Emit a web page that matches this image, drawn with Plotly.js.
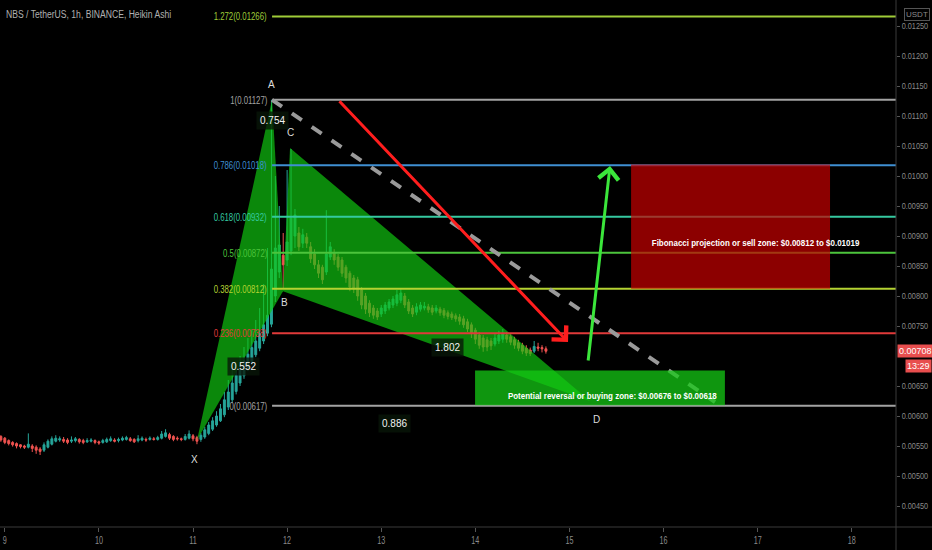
<!DOCTYPE html>
<html><head><meta charset="utf-8">
<script src="https://cdn.plot.ly/plotly-3.0.1.min.js"></script>
<style>html,body{margin:0;padding:0;background:#000;}#chart{width:932px;height:550px;}</style>
</head><body><div id="chart"></div>
<script>
// ---------- DATA ----------
// hourly Heikin Ashi candles, prices in 0.00001 USDT; first candle 1 h before day 9 00:00
const firstHour = -1;
const opens = [566,563,559,556,554,552,550,548,550,548,545,543,548,553,558,560,561,560,558,559,
561,559,557,558,559,557,556,557,559,560,559,560,561,562,561,559,560,561,561,562,
561,563,566,569,566,563,562,561,563,567,564,561,565,571,578,585,592,602,615,627,
641,655,667,680,691,702,713,725,738,753,800,840,868,860,875,900,905,888,898,882,
870,852,848,840,865,872,865,860,848,838,830,827,810,800,788,780,775,770,775,780,
785,788,793,800,790,780,773,778,780,782,780,775,778,776,772,770,767,765,762,757,
752,743,735,730,727,725,720,725,728,735,732,727,722,718,713,710,708,715,714,712];
const highs = [568,565,561,558,556,553,552,571,553,551,548,556,561,566,568,566,565,563,566,565,
563,562,563,563,561,559,562,564,566,563,564,566,567,565,563,568,566,564,566,565,
567,575,578,572,568,566,564,570,576,570,567,572,582,590,598,608,620,640,660,680,
690,700,715,730,745,760,780,820,880,1127,1000,950,905,1010,1045,945,915,912,905,890,
878,860,852,943,890,878,870,865,852,842,835,832,815,805,793,785,780,785,790,795,
800,810,812,805,795,785,788,790,790,787,785,785,782,780,776,774,771,770,767,762,
756,747,740,735,732,730,738,742,745,740,736,732,727,722,718,714,725,722,718,716];
const lows = [557,553,551,549,546,546,545,546,540,537,535,540,546,551,556,557,555,553,555,556,
554,553,555,556,553,552,554,555,557,556,556,558,559,557,555,556,558,557,559,559,
559,561,564,560,558,559,558,559,561,558,553,557,562,568,575,582,590,598,610,622,
636,650,662,675,686,698,708,720,733,748,790,830,812,850,868,880,875,880,880,855,
845,830,820,835,860,852,842,832,822,808,805,792,778,770,765,762,760,765,770,776,
780,783,788,780,770,765,768,774,776,772,768,771,767,763,761,760,757,752,747,740,
730,720,712,707,708,710,716,720,722,722,718,712,708,703,700,700,705,708,706,704];
const closes = [560,556,554,552,550,549,548,553,546,543,541,552,558,562,563,562,558,556,560,562,
557,556,559,560,556,555,559,561,562,558,561,563,564,559,557,562,563,560,563,561,
564,570,572,563,561,562,561,566,570,562,558,568,577,585,592,600,612,627,640,655,
668,680,692,703,714,725,738,752,768,845,880,885,852,890,930,935,882,902,888,862,
852,838,827,870,882,860,848,838,830,815,812,800,785,778,772,768,765,780,785,790,
795,802,805,785,775,770,782,785,783,777,773,780,772,768,766,764,762,758,752,745,
737,728,718,715,715,717,730,735,737,728,723,718,713,708,705,704,716,713,712,708];

const dayTicks = [9,10,11,12,13,14,15,16,17,18];
// 0.00700 is hidden behind the last-price label in the reference
const priceTicks = [0.0045,0.005,0.0055,0.006,0.0065,0.0075,0.008,0.0085,0.009,0.0095,0.01,0.0105,0.011,0.0115,0.012,0.0125];

// XABCD pattern points (time in days, price in USDT)
const patternNames = ['X','A','B','C','D'];
const patternTimes = [11.043, 11.840, 11.956, 12.031, 15.219];
const patternPrices = [0.0056, 0.01127, 0.00808, 0.010467, 0.00625];

const ratioTexts = ['0.552','0.754','1.802','0.886'];
const ratioTimes = [11.534, 11.840, 13.701, 13.136];
const ratioPrices = [0.006817, 0.010917, 0.00715, 0.005867];

const fibRatios = ['1.272','1','0.786','0.618','0.5','0.382','0.236','0'];
const fibPrices = [0.01266,0.01127,0.01018,0.00932,0.00872,0.00812,0.00738,0.00617];

const zoneTexts = ['Fibonacci projection or sell zone: $0.00812 to $0.01019','Potential reversal or buying zone: $0.00676 to $0.00618'];
const zoneStart = [15.655, 13.997];
const zoneEnd = [17.769, 16.652];
const zoneLow = [0.00812, 0.00618];
const zoneHigh = [0.01019, 0.00676];
const zoneLabelTimes = [16.972, 15.453];
const zoneLabelPrices = [0.0089, 0.00635];

const trendTimes = [11.840, 16.547];
const trendPrices = [0.01127, 0.006233];
const arrowTailTimes = [12.541, 15.197];
const arrowTailPrices = [0.01127, 0.0069];
const arrowTipTimes = [14.985, 15.431];
const arrowTipPrices = [0.007233, 0.010167];

const lastPrice = 0.00708;
const lastPriceText = '0.00708';
const countdownText = '13:29';
const titleText = 'NBS / TetherUS, 1h, BINANCE, Heikin Ashi';

// ---------- STYLE ----------
const FONT = '"Liberation Sans", Arial, sans-serif';
const fibColors = ['#9fcc38','#a3a3a3','#3f8fd2','#35c9a0','#4cc43c','#b4d232','#e03a3a','#a3a3a3'];
const zoneFill = ['rgba(200,0,0,0.70)','rgba(20,200,20,0.75)'];
const arrowColors = ['#ff1e1e','#3be63b'];
const xRange = [8.949, 18.47];
const yRange = [0.00415, 0.0129333];

const times = closes.map((_, i) => 9 + (firstHour + i) / 24);
const sc = v => v / 100000;

const trace = {
  type: 'candlestick',
  x: times,
  open: opens.map(sc), high: highs.map(sc), low: lows.map(sc), close: closes.map(sc),
  increasing: {line: {color: '#26a69a', width: 1}, fillcolor: '#26a69a'},
  decreasing: {line: {color: '#ef5350', width: 1}, fillcolor: '#ef5350'},
  hoverinfo: 'skip', showlegend: false
};

const shapes = [];
const P = i => patternTimes[i] + ',' + patternPrices[i];
shapes.push({type:'path', xref:'x', yref:'y', layer:'above', path:'M' + P(0) + 'L' + P(1) + 'L' + P(2) + 'Z',
  fillcolor:'rgba(16,200,16,0.68)', line:{width:0}});
shapes.push({type:'path', xref:'x', yref:'y', layer:'above', path:'M' + P(2) + 'L' + P(3) + 'L' + P(4) + 'Z',
  fillcolor:'rgba(16,200,16,0.68)', line:{width:0}});
fibPrices.forEach((p, i) => shapes.push({type:'line', xref:'x', yref:'y', layer:'above',
  x0: patternTimes[1], x1: xRange[1], y0: p, y1: p, line:{color: fibColors[i], width: 2}}));
shapes.push({type:'line', xref:'x', yref:'y', layer:'above', x0: trendTimes[0], x1: trendTimes[1],
  y0: trendPrices[0], y1: trendPrices[1], line:{color:'#9a9a9a', width:4, dash:'dash'}});
zoneTexts.forEach((t, i) => shapes.push({type:'rect', xref:'x', yref:'y', layer:'above',
  x0: zoneStart[i], x1: zoneEnd[i], y0: zoneLow[i], y1: zoneHigh[i], fillcolor: zoneFill[i], line:{width:0}}));
shapes.push({type:'line', xref:'paper', yref:'paper', x0:0, x1: 932/896, y0:0, y1:0, line:{color:'#3a3a3a', width:1}});
shapes.push({type:'line', xref:'paper', yref:'paper', x0:1, x1:1, y0:-23/527, y1:1, line:{color:'#3a3a3a', width:1}});

const ann = [];
const squeezeIdx = {};
function addAnn(a, f) { if (f) squeezeIdx[ann.length] = f; ann.push(a); }

addAnn({xref:'paper', yref:'paper', x:0, y:1, xanchor:'left', yanchor:'middle', align:'left', xshift:4, yshift:-14,
  text:titleText, showarrow:false, font:{family:FONT, size:10, color:'#b0b0b0'}}, 0.86);
fibRatios.forEach((r, i) => addAnn({xref:'x', yref:'y', x: patternTimes[1], y: fibPrices[i], xanchor:'right', yanchor:'middle',
  align:'right', xshift:-3, text: r + '(' + fibPrices[i].toFixed(5) + ')', showarrow:false,
  font:{family:FONT, size:11, color: fibColors[i]}}, 0.71));
const letterShift = [[-3,-19],[-1,15],[2,-11],[0,15],[6,-18]];
patternNames.forEach((n, i) => addAnn({xref:'x', yref:'y', x: patternTimes[i], y: patternPrices[i], showarrow:false,
  xshift: letterShift[i][0], yshift: letterShift[i][1], text:n, font:{family:FONT, size:10, color:'#dddddd'}}));
ratioTexts.forEach((t, i) => addAnn({xref:'x', yref:'y', x: ratioTimes[i], y: ratioPrices[i], showarrow:false,
  text:t, bgcolor:'rgba(8,22,8,0.78)', borderpad:3, font:{family:FONT, size:10, color:'#f2f2f2'}}));
zoneTexts.forEach((t, i) => addAnn({xref:'x', yref:'y', x: zoneLabelTimes[i], y: zoneLabelPrices[i], showarrow:false,
  text:'<b>' + t + '</b>', font:{family:FONT, size:9.5, color:'#ffffff'}}, 0.84));
arrowColors.forEach((c, i) => addAnn({xref:'x', yref:'y', axref:'x', ayref:'y', x: arrowTipTimes[i], y: arrowTipPrices[i],
  ax: arrowTailTimes[i], ay: arrowTailPrices[i], text:'', showarrow:true, arrowhead:4, arrowsize:1.3, arrowwidth:3,
  arrowcolor:c, standoff:0, startstandoff:0}));
addAnn({xref:'paper', yref:'y', x:1, y:lastPrice, xanchor:'left', yanchor:'middle', xshift:1, showarrow:false,
  text:lastPriceText, bgcolor:'#e84e4e', borderpad:1, font:{family:FONT, size:9, color:'#ffffff'}});
addAnn({xref:'paper', yref:'y', x:932/896, y:lastPrice, xanchor:'right', yanchor:'middle', yshift:-15, showarrow:false,
  text:countdownText, bgcolor:'#e84e4e', borderpad:1, font:{family:FONT, size:9, color:'#ffffff'}});
addAnn({xref:'paper', yref:'paper', x:1, y:1, xanchor:'left', yanchor:'middle', xshift:8, yshift:-14, showarrow:false,
  text:'USDT', bordercolor:'#555555', borderwidth:1, borderpad:1, font:{family:FONT, size:8, color:'#8a8a8a'}});

const layout = {
  width:932, height:550, margin:{l:0, r:36, t:0, b:23},
  paper_bgcolor:'#000000', plot_bgcolor:'#000000',
  showlegend:false, hovermode:false, dragmode:false,
  xaxis:{range:xRange, tickvals:dayTicks, ticktext:dayTicks.map(String), showgrid:false, zeroline:false, showline:false,
    ticks:'outside', ticklen:4, tickcolor:'#555555', tickfont:{family:FONT, size:10, color:'#8a8a8a'},
    rangeslider:{visible:false}, fixedrange:true},
  yaxis:{range:yRange, side:'right', tickvals:priceTicks, ticktext:priceTicks.map(v => v.toFixed(5)), showgrid:false,
    zeroline:false, showline:false, ticks:'outside', ticklen:3, tickcolor:'#555555',
    tickfont:{family:FONT, size:8.5, color:'#8a8a8a'}, fixedrange:true},
  shapes:shapes, annotations:ann
};

function squeeze(el, f) {
  const w = el.getComputedTextLength();
  if (w > 0) { el.setAttribute('textLength', (w * f).toFixed(1)); el.setAttribute('lengthAdjust', 'spacingAndGlyphs'); }
}
Plotly.newPlot('chart', [trace], layout, {displayModeBar:false, staticPlot:true}).then(gd => {
  gd.querySelectorAll('.ytick text').forEach(t => squeeze(t, 0.86));
  gd.querySelectorAll('.xtick text').forEach(t => squeeze(t, 0.72));
  gd.querySelectorAll('g.annotation').forEach(g => {
    const idx = +g.getAttribute('data-index');
    if (squeezeIdx[idx]) { const t = g.querySelector('text.annotation-text'); if (t) squeeze(t, squeezeIdx[idx]); }
  });
});
</script></body></html>
